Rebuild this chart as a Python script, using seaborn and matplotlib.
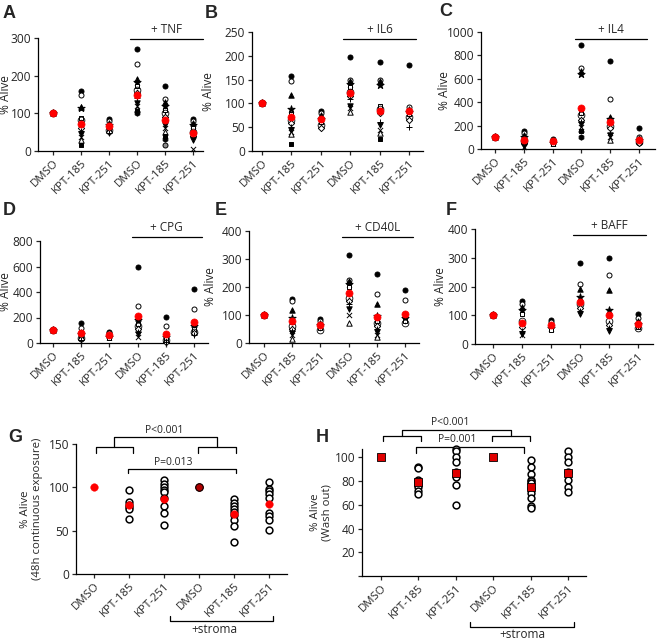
import matplotlib
matplotlib.use("Agg")
import matplotlib.pyplot as plt
import numpy as np
import pandas as pd
import seaborn as sns

W, H = 660, 641

groups = ["DMSO", "KPT-185", "KPT-251", "DMSO", "KPT-185", "KPT-251"]

# ---------------- data ----------------
A_values = [[100] * 6,
            [158, 148, 118, 115, 88, 82, 62, 52, 45, 38, 30, 15],
            [85, 80, 75, 70, 62, 55, 50, 48],
            [270, 230, 190, 183, 172, 163, 155, 140, 128, 120, 112, 105, 100],
            [172, 138, 130, 120, 110, 100, 90, 80, 70, 60, 50, 40, 32, 15],
            [85, 80, 75, 70, 60, 50, 40, 38, 30, 5]]
A_means = [100, 73, 67, 150, 82, 47]

B_values = [[100] * 6,
            [158, 148, 118, 88, 78, 65, 58, 50, 45, 40, 35, 15],
            [85, 80, 75, 68, 60, 55, 48],
            [198, 150, 148, 140, 135, 125, 115, 110, 95, 90, 82],
            [188, 150, 148, 138, 95, 88, 80, 60, 55, 45, 38, 25],
            [180, 92, 88, 82, 78, 72, 65, 50]]
B_means = [100, 72, 67, 121, 85, 85]

C_values = [[100] * 6,
            [150, 140, 120, 100, 85, 70, 55, 40, 25, 15],
            [85, 75, 65, 55, 45],
            [885, 690, 670, 640, 310, 290, 250, 230, 210, 190, 170, 150, 100],
            [750, 425, 270, 255, 240, 200, 180, 140, 120, 100, 80],
            [180, 100, 90, 80, 70, 60, 50]]
C_means = [100, 75, 65, 350, 235, 80]

D_values = [[100] * 6,
            [160, 120, 90, 70, 55, 40, 30, 20],
            [85, 75, 65, 50, 40],
            [595, 290, 200, 180, 150, 130, 110, 90, 70, 45],
            [205, 130, 70, 50, 30, 20, 10, 5],
            [425, 265, 150, 130, 110, 90, 80, 65]]
D_means = [100, 78, 65, 210, 72, 165]

E_values = [[100] * 6,
            [158, 150, 118, 88, 75, 60, 50, 42, 35, 28, 15],
            [85, 80, 72, 65, 55, 45],
            [315, 225, 220, 210, 200, 160, 150, 140, 122, 100, 72],
            [247, 175, 140, 95, 80, 70, 60, 50, 40, 30, 20],
            [188, 155, 100, 90, 80, 72]]
E_means = [100, 78, 65, 178, 92, 102]

F_values = [[100] * 6,
            [150, 140, 130, 120, 105, 80, 60, 45, 35, 30],
            [85, 75, 65, 55, 48],
            [282, 210, 190, 165, 150, 140, 125, 115, 105],
            [300, 240, 187, 120, 100, 80, 65, 55, 45],
            [105, 90, 80, 70, 60, 55]]
F_means = [100, 73, 67, 145, 102, 70]

G_values = [[],
            [97, 83, 80, 77, 75, 64],
            [108, 104, 100, 97, 95, 88, 78, 70, 57],
            [],
            [86, 82, 78, 75, 72, 68, 62, 55, 37],
            [106, 98, 96, 92, 88, 70, 67, 62, 51]]
G_means = [100, 80, 86, 100, 69, 81]

H_values = [[],
            [92, 91, 81, 79, 77, 75, 72, 69],
            [107, 105, 100, 96, 88, 83, 77, 60],
            [],
            [98, 92, 86, 81, 80, 78, 74, 70, 66, 59, 57],
            [105, 100, 96, 88, 81, 75, 71]]
H_means = [100, 79, 87, 100, 75, 87]

treatments = ["+ TNF", "+ IL6", "+ IL4", "+ CPG", "+ CD40L", "+ BAFF"]
G_pvals = ["P<0.001", "P=0.013"]
H_pvals = ["P<0.001", "P=0.001"]
stroma_label = "+stroma"

# ---------------- style ----------------
sns.set_style("ticks")
plt.rcParams["font.family"] = ["Open Sans", "DejaVu Sans"]
plt.rcParams["axes.linewidth"] = 0.9
plt.rcParams["xtick.major.width"] = 0.9
plt.rcParams["ytick.major.width"] = 0.9
plt.rcParams["xtick.major.size"] = 3
plt.rcParams["ytick.major.size"] = 3
plt.rcParams["xtick.major.pad"] = 2
plt.rcParams["ytick.major.pad"] = 2

STYLES = [("o", "black", 13), ("o", "white", 13), ("^", "black", 15),
          ("*", "black", 30), ("s", "white", 12), (r"$\odot$", "black", 30),
          ("D", "white", 10), ("+", "black", 20), ("v", "black", 15),
          ("x", "black", 14), ("^", "white", 15), ("s", "black", 12),
          ("h", "black", 15), ("o", "0.55", 13)]

fig = plt.figure(figsize=(W / 100, H / 100), dpi=100)


def px_axes(l, t, r, b):
    return fig.add_axes([l / W, 1 - b / H, (r - l) / W, (b - t) / H])


def base_axes(ax, xlim, ylim, yticks, ylabel, ylab_x, ytl=None, fs=8.2, yfs=8.6):
    ax.set_xlim(*xlim)
    ax.set_ylim(*ylim)
    ax.set_xticks(np.arange(len(groups)))
    ax.set_xticklabels(groups, rotation=45, ha="right", rotation_mode="anchor",
                       fontsize=fs)
    ax.set_yticks(yticks)
    if ytl is not None:
        ax.set_yticklabels(ytl)
    ax.tick_params(axis="y", labelsize=fs + 0.4)
    ax.set_xlabel("")
    ax.set_ylabel(ylabel, fontsize=yfs, linespacing=1.1)
    ax.yaxis.set_label_coords(ylab_x, 0.5)
    sns.despine(ax=ax)
    for s in ax.spines.values():
        s.set_color("black")


def draw_panel(ax, values, means):
    rows = []
    for gi, vals in enumerate(values):
        for k, v in enumerate(vals):
            rows.append((gi, v, k % len(STYLES)))
    df = pd.DataFrame(rows, columns=["pos", "value", "style"])
    for si, sub in df.groupby("style"):
        m, fc, s = STYLES[si]
        lw = 0 if m.startswith("$") else 0.7
        sns.scatterplot(data=sub, x="pos", y="value", ax=ax, marker=m, s=s,
                        color="black", facecolor=fc, edgecolor="black",
                        linewidth=lw, legend=False, zorder=3, clip_on=False)
    sns.scatterplot(x=np.arange(len(means)), y=means, ax=ax, color="red",
                    edgecolor="red", s=26, linewidth=0.5, legend=False,
                    zorder=5, clip_on=False)


def letter(x, y, t):
    fig.text(x / W, 1 - y / H, t, fontsize=13, fontweight="bold",
             family=["Liberation Sans", "DejaVu Sans"], ha="center", va="center")


def treat_bar(ax, x0, x1, yf, label):
    tr = ax.get_xaxis_transform()
    ax.plot([x0, x1], [yf, yf], color="black", lw=0.9, transform=tr, clip_on=False)
    ax.text((x0 + x1) / 2, yf + 0.025, label, transform=tr, ha="center",
            va="bottom", fontsize=8.5)


# layout: (box l,t,r,b), xlim, ylim, yticks, letter pos, ylabel x (axes frac), bar
specs = [
    ((38, 38, 203, 151), (-0.54, 5.36), (0, 300), np.arange(0, 301, 100), (9, 13), -0.16, (2.75, 5.36, 0.99)),
    ((252, 32, 423, 151), (-0.34, 5.48), (0, 250), np.arange(0, 251, 50), (211, 13), -0.215, (2.76, 5.24, 0.94)),
    ((481, 32, 655, 149), (-0.49, 5.56), (0, 1000), np.arange(0, 1001, 200), (446, 11), -0.17, (2.78, 5.28, 0.94)),
    ((40, 241, 208, 343), (-0.46, 5.5), (0, 800), np.arange(0, 801, 200), (9, 210), -0.165, (2.8, 5.28, 1.04)),
    ((249, 231, 419, 343), (-0.53, 5.5), (0, 400), np.arange(0, 401, 100), (221, 210), -0.19, (2.77, 5.28, 0.946)),
    ((475, 229, 653, 344), (-0.62, 5.52), (0, 400), np.arange(0, 401, 100), (451, 210), -0.158, (2.76, 5.28, 0.95)),
]
panel_data = [(A_values, A_means), (B_values, B_means), (C_values, C_means),
              (D_values, D_means), (E_values, E_means), (F_values, F_means)]

for (box, xlim, ylim, yt, lpos, ylx, bar), (vals, means), trt, let in zip(
        specs, panel_data, treatments, "ABCDEF"):
    ax = px_axes(*box)
    draw_panel(ax, vals, means)
    base_axes(ax, xlim, ylim, yt, "% Alive", ylx)
    treat_bar(ax, bar[0], bar[1], bar[2], trt)
    letter(lpos[0], lpos[1], let)


def bline(ax, xs, ys):
    ax.plot(xs, ys, color="black", lw=0.9, clip_on=False)


def stroma(ax, x0, x1, y, ytick, xtext, ytext):
    tr = ax.get_xaxis_transform()
    ax.plot([x0, x0, x1, x1], [ytick, y, y, ytick], color="black", lw=0.9,
            transform=tr, clip_on=False)
    ax.text(xtext, ytext, stroma_label, transform=tr,
            ha="center", va="center", fontsize=8.5)


def open_points(ax, values):
    rows = [(gi, v) for gi, vals in enumerate(values) for v in vals]
    df = pd.DataFrame(rows, columns=["pos", "value"])
    sns.scatterplot(data=df, x="pos", y="value", ax=ax, marker="o", s=24,
                    color="black", facecolor="white", edgecolor="black",
                    linewidth=1.1, legend=False, zorder=3, clip_on=False)


# ---------------- panel G ----------------
axg = px_axes(76, 444, 287, 574)
open_points(axg, G_values)
sns.scatterplot(x=np.arange(6), y=G_means, ax=axg, color="red", edgecolor="red",
                s=30, linewidth=0.3, legend=False, zorder=5, clip_on=False)
sns.scatterplot(x=[3], y=[G_means[3]], ax=axg, color="#b00000", edgecolor="black",
                s=30, linewidth=0.8, legend=False, zorder=6, clip_on=False)
base_axes(axg, (-0.51, 5.51), (0, 150), [0, 50, 100, 150],
          "% Alive\n(48h continuous exposure)", -0.157, yfs=8.2)
bline(axg, [0.05, 0.05, 1.12, 1.12], [139.6, 146.5, 146.5, 139.6])
bline(axg, [2.98, 2.98, 4.05, 4.05], [139.6, 146.5, 146.5, 139.6])
bline(axg, [0.585, 0.585, 3.515, 3.515], [146.5, 158, 158, 146.5])
axg.text(2.0, 166, G_pvals[0], ha="center", va="center", fontsize=7.5)
bline(axg, [0.97, 0.97, 4.06, 4.06], [116.5, 121, 121, 116.5])
axg.text(2.26, 129, G_pvals[1], ha="center", va="center", fontsize=7.5)
stroma(axg, 2.16, 5.11, -0.36, -0.32, 3.43, -0.425)
letter(15, 437, "G")

# ---------------- panel H ----------------
axh = px_axes(362, 449, 586, 576)
open_points(axh, H_values)
sns.scatterplot(x=np.arange(6), y=H_means, ax=axh, marker="s", color="#e00000",
                edgecolor="black", s=30, linewidth=0.6, legend=False, zorder=5,
                clip_on=False)
base_axes(axh, (-0.51, 5.48), (0, 107), [0, 20, 40, 60, 80, 100],
          "% Alive\n(Wash out)", -0.13, ytl=["", "20", "40", "60", "80", "100"],
          yfs=8.2)
bline(axh, [0.05, 0.05, 1.07, 1.07], [113.5, 118, 118, 113.5])
bline(axh, [2.97, 2.97, 3.98, 3.98], [113.5, 118, 118, 113.5])
bline(axh, [0.56, 0.56, 3.475, 3.475], [118, 123, 123, 118])
axh.text(1.85, 129, H_pvals[0], ha="center", va="center", fontsize=7.5)
bline(axh, [0.94, 0.94, 3.82, 3.82], [104, 109, 109, 104])
axh.text(2.04, 115, H_pvals[1], ha="center", va="center", fontsize=7.5)
stroma(axh, 2.38, 5.16, -0.40, -0.362, 3.77, -0.457)
letter(322, 437, "H")

fig.savefig("out.png", dpi=100)
